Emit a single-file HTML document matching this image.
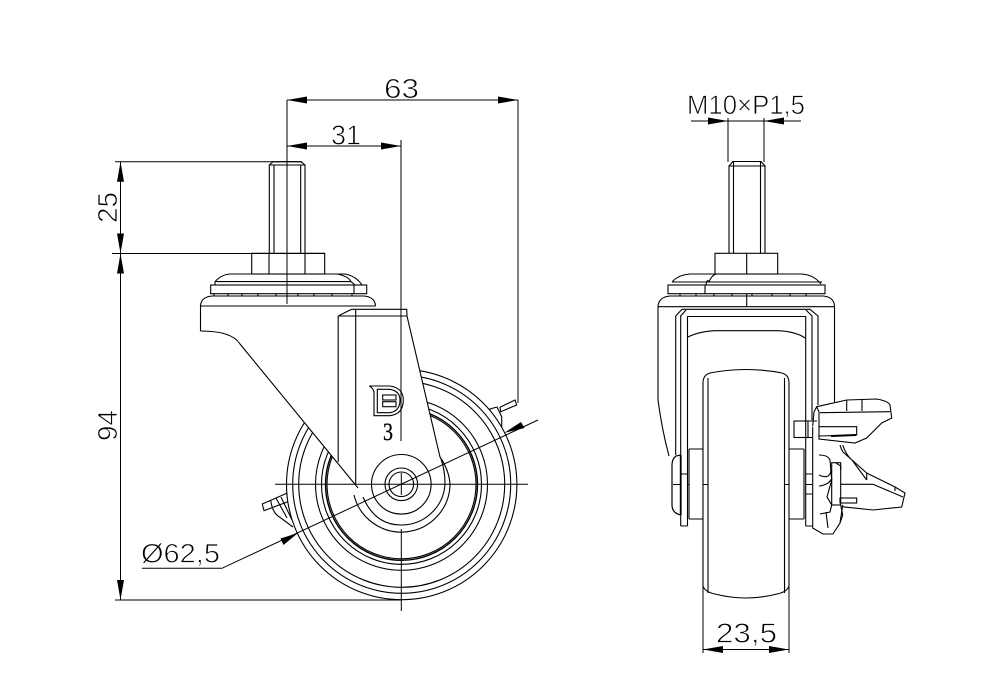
<!DOCTYPE html>
<html><head><meta charset="utf-8"><style>
html,body{margin:0;padding:0;background:#fff}
svg{display:block}
text{font-family:"Liberation Sans",sans-serif;fill:#000;stroke:#fff;stroke-width:.8}
.l{fill:none;stroke:#000;stroke-width:1.1}
.w{fill:#fff;stroke:#000;stroke-width:1.1}
.t{fill:none;stroke:#000;stroke-width:1}
.a{fill:#000;stroke:none}
</style></head><body>
<svg width="996" height="683" viewBox="0 0 996 683" xmlns="http://www.w3.org/2000/svg">
<!-- LEFT VIEW: brakes behind wheel -->
<g class="l">
<path d="M262.3,504L286.7,493.3L288,501.7L264,510.7Z"/>
<path d="M270.7,500.7Q272,510 276.7,515L293,527M276,498L287,518M281,497L292,520"/>
<path class="w" d="M490,409L497,407L501.7,416.7L501.7,427L490,418Z"/>
<path class="w" d="M500,407.3L515,400L516.7,405L500.7,411.7Z"/>
</g>
<!-- wheel -->
<g class="w">
<circle cx="401.7" cy="484.5" r="115.2"/>
</g>
<g class="l">
<circle cx="401.7" cy="484.3" r="109"/>
<circle cx="401.7" cy="484.3" r="103"/>
<circle cx="401.5" cy="484.3" r="86"/>
<circle cx="401.5" cy="484.3" r="80"/>
<circle cx="401.5" cy="484.3" r="76" stroke-width="1.4"/>
<circle cx="401.5" cy="484.3" r="74.5"/>
</g>
<!-- body white mask and outline -->
<path d="M200.5,306L200.5,331Q232,331 240,344L355,484A48.7,48.7 0 0 0 450,484Q449,470 440,457L407,316L406.7,309L375.5,306Z" fill="#fff"/>
<g class="l">
<path d="M200.5,331L200.5,306Q201,297 212,296L364,296Q375,297 375.5,306"/>
<path d="M200.5,306L375.5,306"/>
<path d="M200.5,331Q232,331 240,344L358,488"/>
<path d="M351.6,309.3L406.7,309.3L407,316L440,457Q449,470 450,484A48.7,48.7 0 0 1 354,495"/>
<path d="M338.2,316L351.6,309.3M338.2,316L407,316"/>
<path d="M338.2,316L338.2,462M355.7,310L355.7,485"/>
<path d="M441,459Q445,470 445,484A43.7,43.7 0 0 1 401,525Q375,525 363,497"/>
<circle cx="401.3" cy="484.3" r="29.8"/>
<circle cx="401.3" cy="484.3" r="16.3"/>
<circle cx="401.3" cy="484.3" r="12.3"/>
<!-- stud -->
<path d="M269.3,253L269.3,165L273,161.7L301,161.7L305,165L305,253M274,165L274,253M300.7,165L300.7,253M269.3,165L305,165"/>
<!-- nut -->
<rect x="251.7" y="253.3" width="73" height="20.7"/>
<path d="M269,253L269,274M305,253L305,274"/>
<path d="M215,281.6Q222,274 231,274L345,274Q356,276 362,285M215,281.6L215,285M215,281.6L351,281.6Q348,276 337,274M351,281.6L355,285"/>
<rect x="210.7" y="285" width="156" height="8.7"/>
<path d="M354,285L354,294"/>
<path d="M214,294L214,296M228,294L228,296M242,294L242,296M258,294L258,296M276,294L276,296M298,294L298,296M314,294L314,296M332,294L332,296M352,294L352,296"/>
<!-- logo -->
<path d="M369.3,386L390,386Q403.3,388 403.3,400Q403.3,414 390,415.7L374,415.7L374,391.7Q373,388 369.3,386Z"/>
<path d="M377.3,389.3L390,389.3Q400,391 400,400Q400,411 390,412.7L377.3,412.7Z"/>
<rect x="382.7" y="395" width="13.3" height="5"/>
<rect x="382.7" y="401.7" width="13.3" height="5"/>
</g>
<text x="383" y="440" textLength="10" lengthAdjust="spacingAndGlyphs" style="font-family:'Liberation Serif',serif;font-size:25px;stroke:#000;stroke-width:.3">3</text>
<text x="384" y="98" font-size="28" textLength="35" lengthAdjust="spacingAndGlyphs">63</text>
<text x="331" y="144.5" font-size="28" textLength="30" lengthAdjust="spacingAndGlyphs">31</text>
<text transform="translate(117,223) rotate(-90)" font-size="28" textLength="31" lengthAdjust="spacingAndGlyphs">25</text>
<text transform="translate(117,441) rotate(-90)" font-size="28" textLength="31" lengthAdjust="spacingAndGlyphs">94</text>
<text x="141" y="562.5" font-size="27" textLength="79" lengthAdjust="spacingAndGlyphs">&#216;62,5</text>
<!-- LEFT VIEW dims -->
<g class="t">
<path d="M287,100L518,100M518,100L518,403"/>
<path d="M287,100L287,304"/>
<path d="M287,146L401,146M401,140L401,441"/>
<path d="M115,161.7L302,161.7M112,253.5L325,253.5"/>
<path d="M120.5,161.7L120.5,600M115,600L401,600"/>
<path d="M401.3,529L401.3,611M275,484.3L528,484.3M401.3,473L401.3,495M355,484.3L387,484.3"/>
<path d="M142,568.3L222,568.3L538,420"/>
</g>
<g class="a">
<path d="M287,100L307,96.5L307,103.5Z"/>
<path d="M518,100L498,96.5L498,103.5Z"/>
<path d="M287,146L307,142.5L307,149.5Z"/>
<path d="M401,146L381,142.5L381,149.5Z"/>
<path d="M120.5,161.7L117,181.7L124,181.7Z"/>
<path d="M120.5,253.5L117,233.5L124,233.5Z"/>
<path d="M120.5,253.5L117,273.5L124,273.5Z"/>
<path d="M120.5,600L117,580L124,580Z"/>
<path d="M298,533L280.5,538.5L283.5,545Z"/>
<path d="M504,433L521,422L524.5,428Z"/>
</g>

<!-- RIGHT VIEW -->
<g class="l">
<path d="M729,253L729,166L733,161.5L761,161.5L765,166L765,253M733.5,161.5L733.5,253M760.5,161.5L760.5,253M729,166L765,166"/>
<rect x="715" y="253.3" width="62.7" height="20.7"/>
<path d="M746.7,253L746.7,274M746.7,294L746.7,307"/>
<path d="M672,282Q678,275 690,274L802,274Q814,275 821,284M672,282L709,282M709,282Q711,276 716,274M706,285Q707,278 709,282M709,282L822,282"/>
<rect x="668" y="285" width="157" height="8.7"/>
<path d="M705,285L705,294"/>
<path d="M680,294L680,296M696,294L696,296M714,294L714,296M732,294L732,296M752,294L752,296M772,294L772,296M790,294L790,296M806,294L806,296"/>
<path d="M658,400L658,306Q659,297 670,296L823,296Q834,297 834.5,306L834.5,405M658,306.7L834.5,306.7"/>
<path d="M658,400Q662,430 669,456"/>
<path d="M675.7,455L675.7,316L682,309.3L810,309.3L818,316L818,405"/>
<path d="M680.7,526L680.7,316L686,310M812,420L812,316L806,310"/>
<path d="M687.5,526L687.5,316.5L805.7,316.5L805.7,526"/>
<path d="M680.7,526L687.5,526M805.7,526L812,526"/>
<path d="M688,337Q700,331 717,330.7L776,330.7Q795,331 805,338"/>
<!-- wheel -->
<path d="M703,586L703,383Q703,375 710,373Q746,366 782,373Q789,375 789,383L789,586Q787,592 777,594Q746,602 715,594Q705,592 703,586Z"/>
<path d="M708,593L708,378M784.5,593L784.5,378"/>
<!-- axle -->
<path d="M689,449L703,449M689,519L703,519M689,449L689,519M789,449L804,449M789,519L804,519M804,449L804,519"/>
<path d="M680.7,474L687.5,474M680.7,484.5L673,484.5M687.5,484.5L689,484.5M703,484.5L708,484.5M784,484.5L789,484.5M805.7,474L812,474M805.7,494L812,494M805,484.5L812,484.5"/>
<path d="M680.7,455L676,456Q672,459 672,465L672,505Q672,513 680.7,515" stroke-width="1.2"/>
<path d="M680.7,455L680.7,515" stroke-width="1.8"/>
<!-- brake -->
<path d="M812.7,426.7L812.7,528L823,534L833,534L840,523L842.7,505"/>
<path class="w" d="M819,439L819,412L816.7,406.7L846.7,400L876.7,399Q888,401 890,405L891.7,418L881.7,423L866.7,438L855,443Z"/>
<path d="M812.7,426L814,412L816.7,406.7M820,412.7L890,411.7M846.7,400L846.7,411M862,399L862,411"/>
<rect x="794" y="421" width="14" height="16.5"/>
<path d="M808,421L817,421M808,437.5L812,437.5"/>
<path d="M819,426.7L856.7,426.7L856.7,435L819,436"/>
<path d="M831,436L856,435" stroke-width="2"/>
<path d="M840,445Q841,449 843,452L866.7,473L895,487L905,493L901.7,507L873,510L841.7,506.7M842.7,445Q846,455 852,460L866.7,480M840,484.3L873,484.3L903,497M866.7,473L866.7,480M895,487L895,491"/>
<path d="M819,455Q828,455 830,460L831.7,480L827,497L831.7,505L830,512L820,514M819,475Q830,480 831,470M819,486Q829,485 832,478"/>
<rect x="831.7" y="462.7" width="9" height="42.3"/>
<path d="M836,463L840.7,466L840.7,470M840.7,505L842.7,515L840,523M826,512L828,528"/>
<rect x="840" y="498" width="16.7" height="5"/>
</g>
<text x="687" y="114" font-size="27" textLength="118" lengthAdjust="spacingAndGlyphs">M10&#215;P1,5</text>
<text x="716" y="642.7" font-size="28" textLength="61" lengthAdjust="spacingAndGlyphs">23,5</text>
<g class="t">
<path d="M691,121L801,121M728,118L728,162M764,118L764,162"/>
<path d="M703,586L703,653M789,586L789,653M703,649.5L789,649.5"/>
</g>
<g class="a">
<path d="M728,121L708,117.5L708,124.5Z"/>
<path d="M764,121L784,117.5L784,124.5Z"/>
<path d="M703,649.5L723,646L723,653Z"/>
<path d="M789,649.5L769,646L769,653Z"/>
</g>
</svg>
</body></html>
